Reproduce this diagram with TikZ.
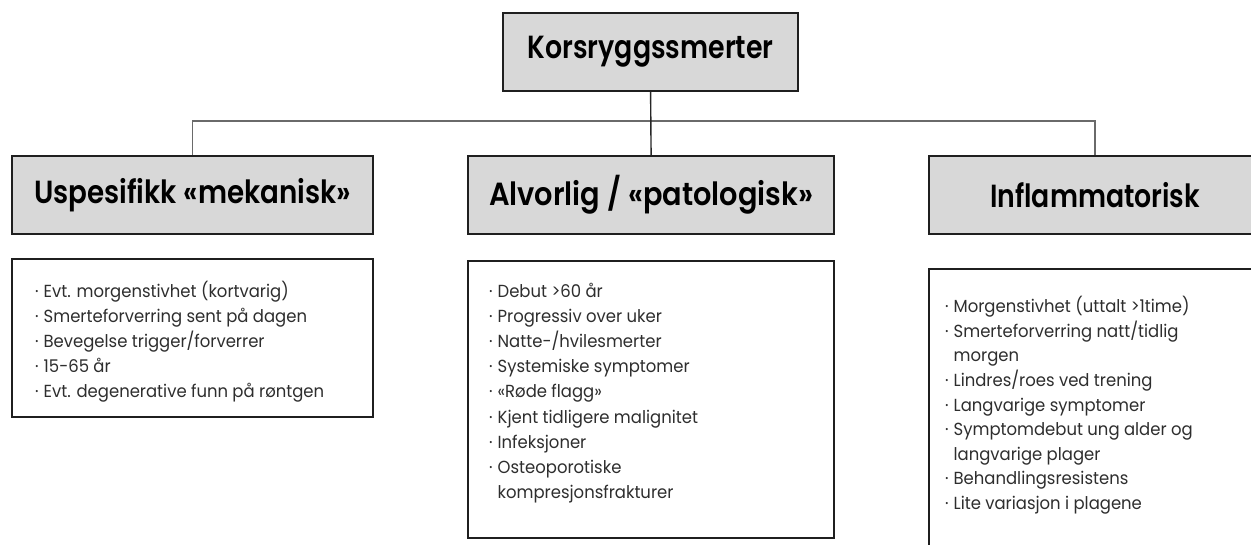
\documentclass[tikz,border=0pt]{standalone}
\usepackage{fontspec}
\usepackage{graphicx}
\setmainfont{Poppins}
\newfontfamily\hdrfont{Poppins SemiBold}
\definecolor{hdrgray}{HTML}{D8D8D8}
\definecolor{linegray}{HTML}{6A6A6A}
\definecolor{txt}{HTML}{2E2E2E}
\newcommand\hw[2]{\resizebox{#1pt}{\height}{#2}}
\newcommand\bsc{0.94}
\newcommand\bul[1]{\scalebox{\bsc}[1]{\makebox[9pt][l]{·}#1}}
\newcommand\cont[1]{\scalebox{\bsc}[1]{\hspace*{9pt}#1}}
\begin{document}
\begin{tikzpicture}[x=1pt,y=-1pt,
  boxline/.style={draw=black!88,line width=2.2pt},
  hdr/.style={boxline,fill=hdrgray,anchor=north west,inner sep=0pt,minimum height=78pt,font=\hdrfont\fontsize{32}{38}\selectfont},
  body/.style={boxline,fill=white,anchor=north west,inner sep=0pt},
  conn/.style={draw=linegray,line width=1.4pt},
  stem/.style={draw=black!85,line width=1.4pt},
  item/.style={anchor=base west,inner sep=0pt,font=\fontsize{17.5}{25}\selectfont,text=txt},
]
\useasboundingbox (0,0) rectangle (1251,545);
\clip (0,0) rectangle (1251,545);

% headers
\node[hdr,minimum width=295pt] (top) at (502,12) {\hw{246}{Korsryggssmerter}};
\node[hdr,minimum width=361pt] (left) at (11,155) {\hw{317}{Uspesifikk «mekanisk»}};
\node[hdr,minimum width=366pt] (mid) at (467,155) {\hw{324}{Alvorlig / «patologisk»}};
\node[hdr,minimum width=332pt] (right) at (928,155) {\hw{210}{Inflammatorisk}};

% connectors
\coordinate (bar) at (651,121);
\draw[conn] (left.north) |- (bar) -| (right.north);
\draw[stem] (top.south) -- (mid.north);

% content boxes
\node[body,minimum width=361pt,minimum height=158pt] (leftbox) at (11,258) {};
\node[body,minimum width=366pt,minimum height=277pt] (midbox) at (467,260) {};
\node[body,minimum width=332pt,minimum height=300pt] (rightbox) at (928,268) {};

% left items
\node[item] (l1) at (35,298) {\bul{Evt. morgenstivhet (kortvarig)}};
\node[item] (l2) at (35,323) {\bul{Smerteforverring sent på dagen}};
\node[item] (l3) at (35,348) {\bul{Bevegelse trigger/forverrer}};
\node[item] (l4) at (35,373) {\bul{15-65 år}};
\node[item] (l5) at (35,398) {\bul{Evt. degenerative funn på røntgen}};

% middle items
\node[item] (m1) at (489,298) {\bul{Debut >60 år}};
\node[item] (m2) at (489,323) {\bul{Progressiv over uker}};
\node[item] (m3) at (489,348) {\bul{Natte-/hvilesmerter}};
\node[item] (m4) at (489,373) {\bul{Systemiske symptomer}};
\node[item] (m5) at (489,398) {\bul{«Røde flagg»}};
\node[item] (m6) at (489,423) {\bul{Kjent tidligere malignitet}};
\node[item] (m7) at (489,448) {\bul{Infeksjoner}};
\node[item] (m8) at (489,473) {\bul{Osteoporotiske}};
\node[item] (m9) at (489,498) {\cont{kompresjonsfrakturer}};

% right items
\node[item] (r1) at (945,313) {\bul{Morgenstivhet (uttalt >1time)}};
\node[item] (r2) at (945,337.5) {\bul{Smerteforverring natt/tidlig}};
\node[item] (r3) at (945,362) {\cont{morgen}};
\node[item] (r4) at (945,386.5) {\bul{Lindres/roes ved trening}};
\node[item] (r5) at (945,411) {\bul{Langvarige symptomer}};
\node[item] (r6) at (945,435.5) {\bul{Symptomdebut ung alder og}};
\node[item] (r7) at (945,460) {\cont{langvarige plager}};
\node[item] (r8) at (945,484.5) {\bul{Behandlingsresistens}};
\node[item] (r9) at (945,509) {\bul{Lite variasjon i plagene}};
\end{tikzpicture}
\end{document}
